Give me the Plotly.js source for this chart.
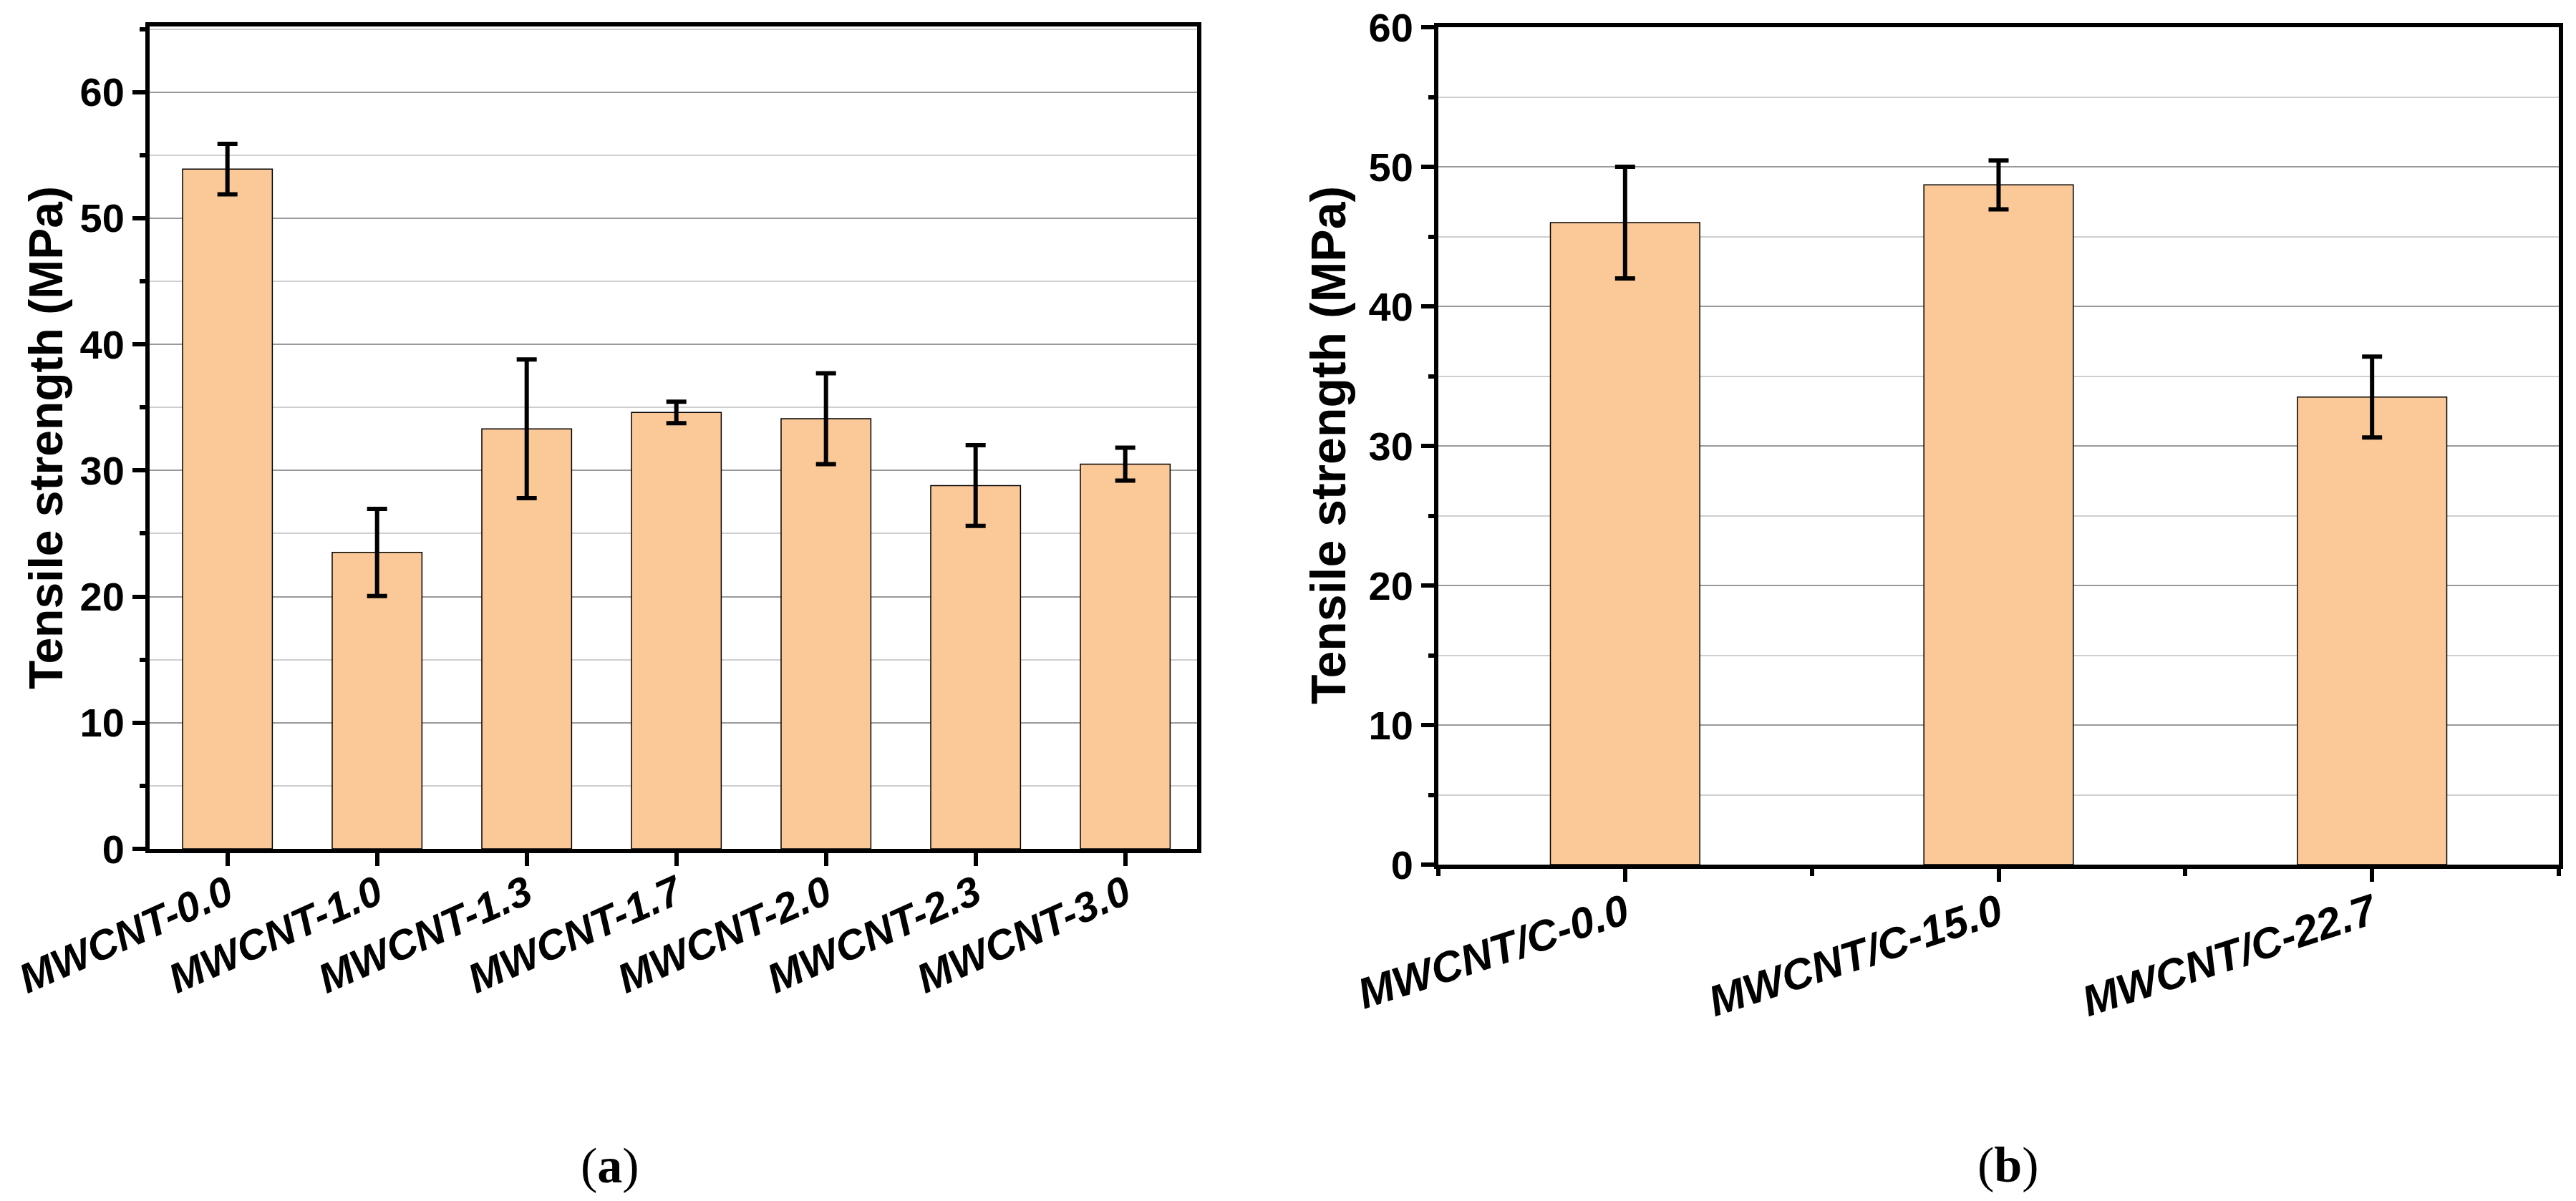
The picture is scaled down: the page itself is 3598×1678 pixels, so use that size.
<!DOCTYPE html>
<html>
<head>
<meta charset="utf-8">
<script src="https://cdn.plot.ly/plotly-3.0.1.min.js"></script>
<style>html,body{margin:0;padding:0;background:#fff;}#chart{width:3598px;height:1678px;}</style>
</head>
<body>
<div id="chart"></div>
<script>
// ---- data ----
const catsA = ['MWCNT-0.0','MWCNT-1.0','MWCNT-1.3','MWCNT-1.7','MWCNT-2.0','MWCNT-2.3','MWCNT-3.0'];
const valsA = [53.9, 23.5, 33.3, 34.6, 34.1, 28.8, 30.5];
const errA  = [2.0, 3.45, 5.5, 0.85, 3.6, 3.2, 1.3];

const catsB = ['MWCNT/C-0.0','MWCNT/C-15.0','MWCNT/C-22.7'];
const valsB = [46.0, 48.7, 33.5];
const errB  = [4.0, 1.75, 2.9];

const yTitle = 'Tensile strength (MPa)';
const panelLabels = ['(<b>a</b>)', '(<b>b</b>)'];

// ---- styles ----
const W = 3598, H = 1678;
const barColor = '#FBC898';
const FONT = 'Liberation Sans, Arial, sans-serif';

const barStyle = {color: barColor, line: {color: '#000', width: 1.5}};
const errStyle = (arr) => ({type: 'data', array: arr, visible: true, color: '#000', thickness: 6, width: 14});

const traces = [
  {type: 'bar', x: catsA, y: valsA, error_y: errStyle(errA), marker: barStyle, width: 0.6,
   xaxis: 'x', yaxis: 'y', hoverinfo: 'x+y'},
  {type: 'bar', x: catsB.map((c, i) => i), y: valsB, error_y: errStyle(errB), marker: barStyle, width: 0.4,
   xaxis: 'x2', yaxis: 'y2', hoverinfo: 'y'}
];

const px = (v) => v / W;
const py = (v) => 1 - v / H;

const commonY = {
  showline: true, mirror: true, linecolor: '#000', linewidth: 6,
  ticks: 'outside', ticklen: 18, tickwidth: 6, tickcolor: '#000',
  dtick: 10, tick0: 0,
  showgrid: true, gridcolor: '#9a9a9a', gridwidth: 2, zeroline: false,
  tickfont: {family: FONT, size: 56, color: '#000', weight: 'bold'},
  minor: {dtick: 5, ticks: 'outside', ticklen: 8, tickwidth: 6, tickcolor: '#000',
          showgrid: true, gridcolor: '#cfcfcf', gridwidth: 2},
  fixedrange: true
};
const commonX = {
  showline: true, mirror: true, linecolor: '#000', linewidth: 6,
  ticks: 'outside', ticklen: 18, tickwidth: 6, tickcolor: '#000',
  showgrid: false, zeroline: false,
  tickfont: {family: FONT, size: 58, color: '#000', weight: 'bold', style: 'italic'},
  fixedrange: true
};

const layout = {
  width: W, height: H,
  margin: {l: 0, r: 0, t: 0, b: 0},
  paper_bgcolor: '#fff', plot_bgcolor: '#fff',
  showlegend: false,
  bargap: 0.4,
  xaxis: Object.assign({}, commonX, {
    domain: [px(209), px(1672)], anchor: 'y', type: 'category',
    range: [-0.52, 6.48], tickangle: -24, ticklabelstandoff: -18
  }),
  yaxis: Object.assign({}, commonY, {
    domain: [py(1186), py(37)], anchor: 'x', range: [0, 65.2]
  }),
  xaxis2: Object.assign({}, commonX, {
    domain: [px(2009), px(3574)], anchor: 'y2', type: 'linear',
    range: [-0.5, 2.5], tickmode: 'array', tickvals: catsB.map((c, i) => i), ticktext: catsB,
    tickangle: -18, ticklabelstandoff: -14,
    tickfont: {family: FONT, size: 60, color: '#000', weight: 'bold', style: 'italic'},
    minor: {tick0: -0.5, dtick: 1, ticks: 'outside', ticklen: 10, tickwidth: 6, tickcolor: '#000', showgrid: false}
  }),
  yaxis2: Object.assign({}, commonY, {
    domain: [py(1208), py(38)], anchor: 'x2', range: [0, 60]
  }),
  annotations: [
    {text: '<b>' + yTitle + '</b>', textangle: -90, xref: 'paper', yref: 'paper',
     x: px(64), y: py(612), xanchor: 'center', yanchor: 'middle', showarrow: false,
     font: {family: FONT, size: 66, color: '#000'}},
    {text: '<b>' + yTitle + '</b>', textangle: -90, xref: 'paper', yref: 'paper',
     x: px(1855), y: py(622), xanchor: 'center', yanchor: 'middle', showarrow: false,
     font: {family: FONT, size: 68, color: '#000'}},
    {text: panelLabels[0], xref: 'paper', yref: 'paper', x: px(852), y: py(1628),
     xanchor: 'center', yanchor: 'middle', showarrow: false,
     font: {family: 'Liberation Serif, Times New Roman, serif', size: 70, color: '#000'}},
    {text: panelLabels[1], xref: 'paper', yref: 'paper', x: px(2805), y: py(1627),
     xanchor: 'center', yanchor: 'middle', showarrow: false,
     font: {family: 'Liberation Serif, Times New Roman, serif', size: 70, color: '#000'}}
  ]
};

Plotly.newPlot('chart', traces, layout, {staticPlot: true, displayModeBar: false});
</script>
</body>
</html>
